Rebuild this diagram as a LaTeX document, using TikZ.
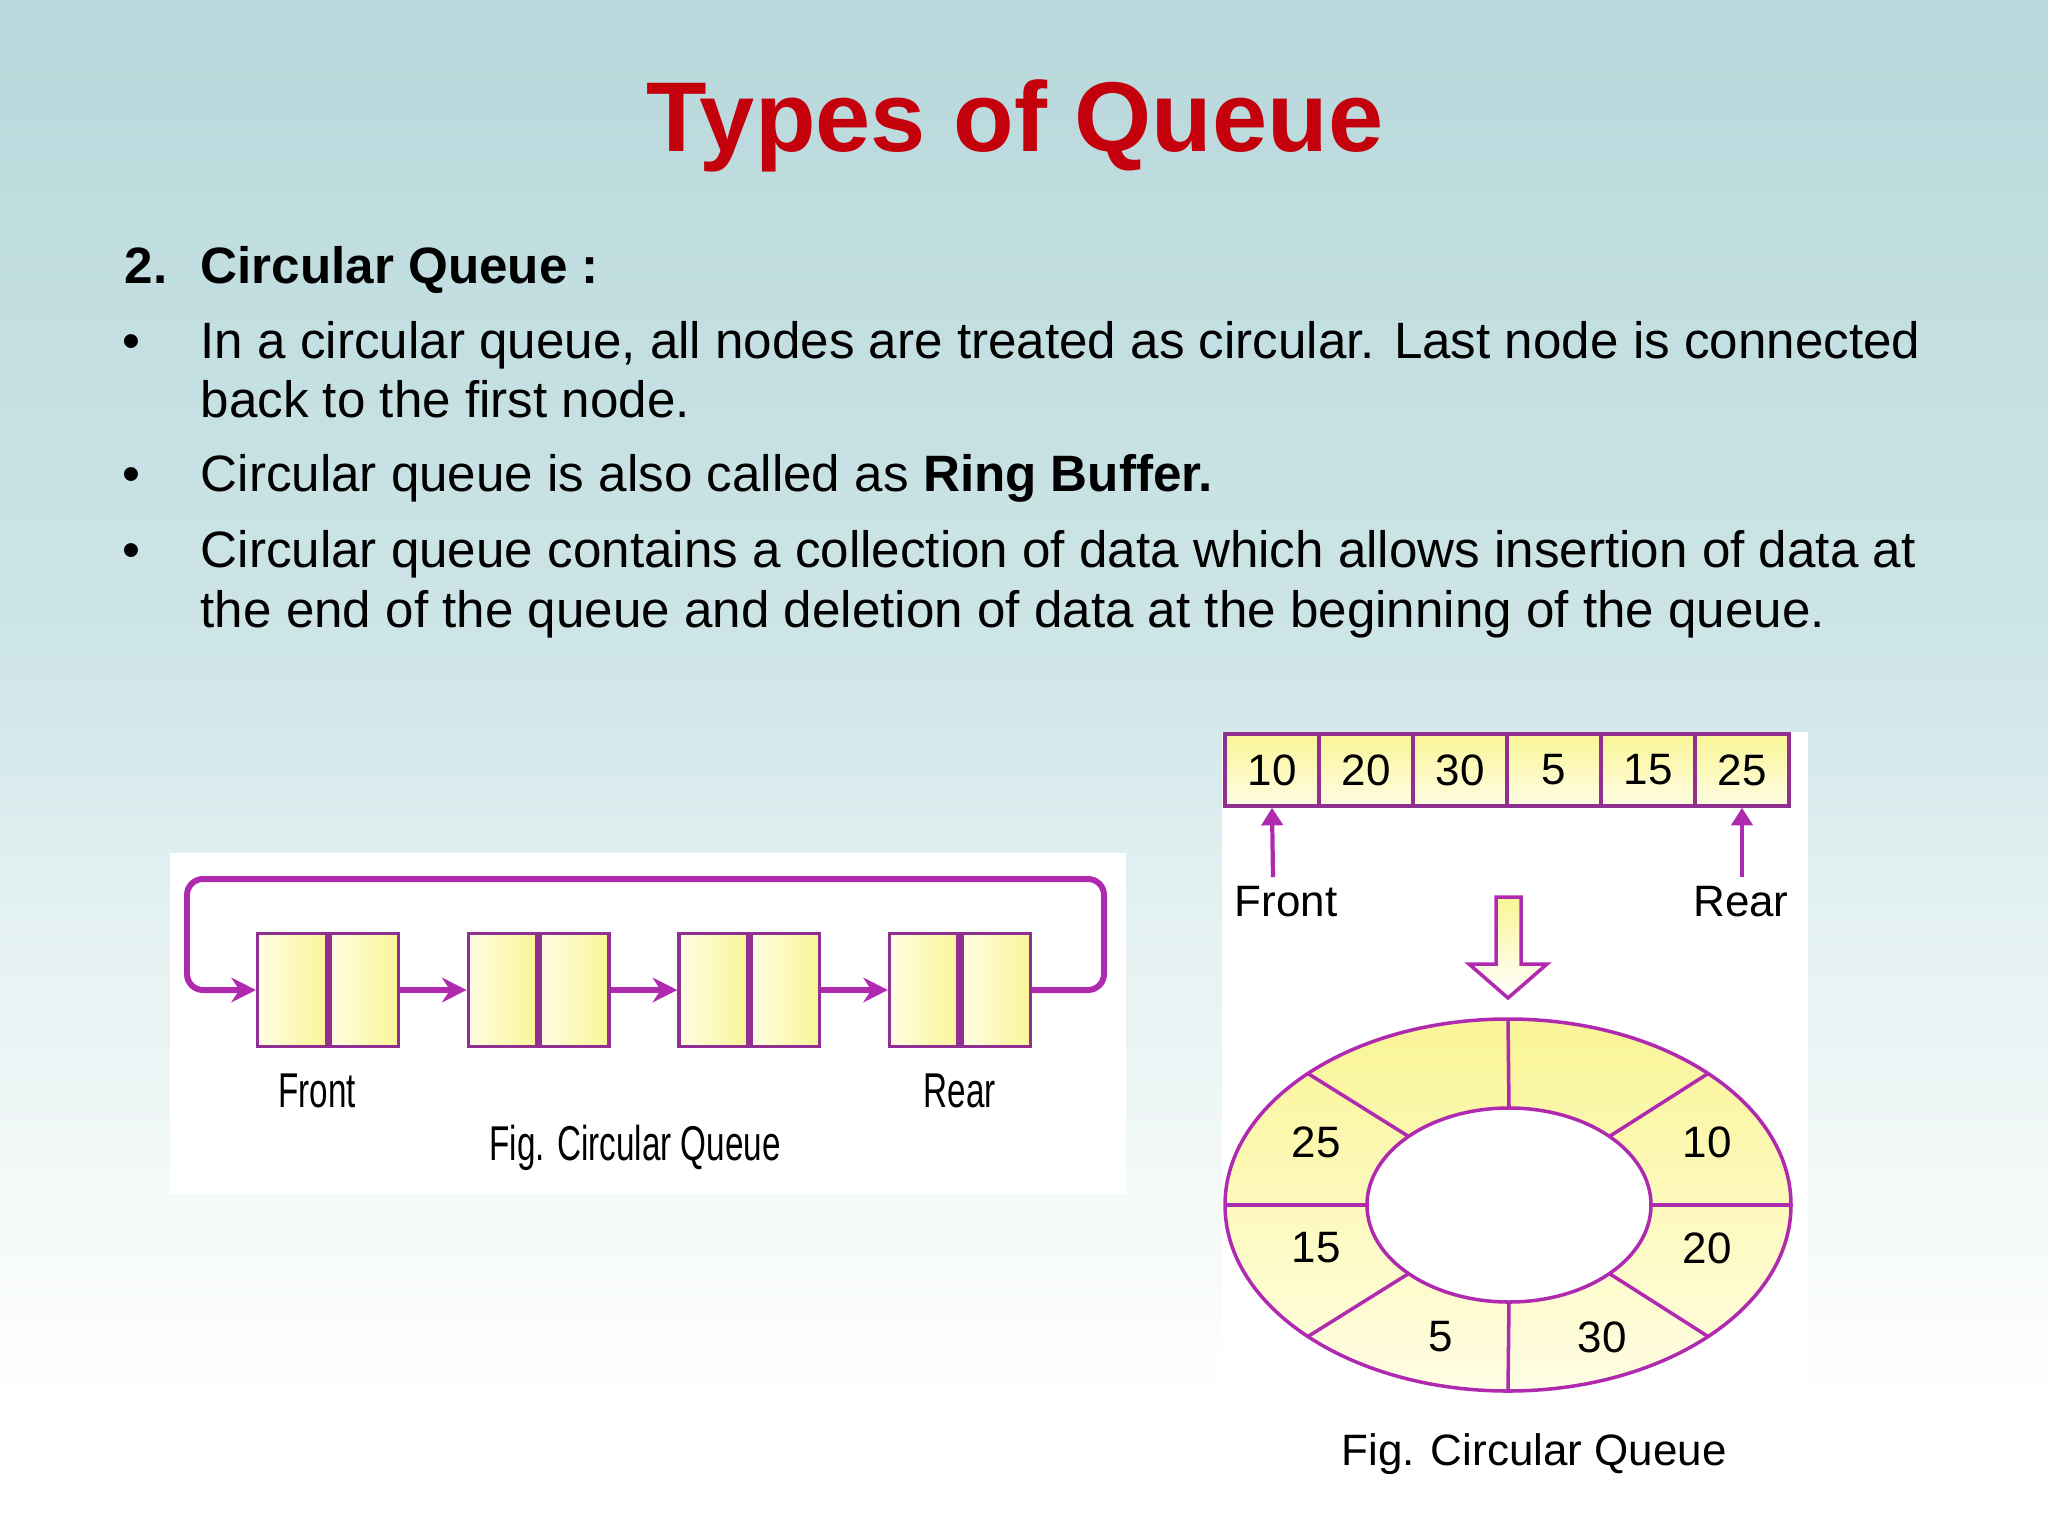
\documentclass[tikz,border=0pt]{standalone}
\usepackage{fontspec}
\setmainfont{Liberation Sans}
\newfontfamily\narrowfont[FakeStretch=0.68]{Liberation Sans}
\usepackage{tikz}
\usetikzlibrary{arrows.meta,positioning,calc}

\definecolor{titlered}{RGB}{196,0,12}
\definecolor{qline}{RGB}{176,42,176}
\definecolor{qedge}{RGB}{146,48,146}
\definecolor{qyellow}{RGB}{250,245,150}
\definecolor{qpale}{RGB}{255,253,228}
\definecolor{bgtop}{RGB}{184,216,219}
\definecolor{bgA}{RGB}{206,229,231}
\definecolor{bgB}{RGB}{228,241,242}
\definecolor{bgC}{RGB}{243,248,248}

\tikzset{
    body/.style={inner sep=0pt, font=\fontsize{14.55}{17}\selectfont},
    half/.style={draw=qedge, line width=1pt, minimum width=0.685cm, minimum height=1.13cm,
        inner sep=0pt, left color=qpale, right color=qyellow},
    arrcell/.style={draw=qedge, line width=1pt, minimum width=0.94cm, minimum height=0.72cm,
        inner sep=0pt, top color=qyellow, bottom color=qpale, font=\fontsize{12.5}{14}\selectfont},
    link/.style={qline, line width=1.5pt, -{Stealth[length=7pt,width=7pt]}},
    loopline/.style={qline, line width=1.7pt, rounded corners=0.16cm, -{Stealth[length=7pt,width=7pt]}},
    ptr/.style={qline, line width=1.2pt, -{Triangle[length=5pt,width=6pt]}},
    ringline/.style={qline, line width=1pt},
    leftfig/.style={inner sep=0pt, font=\narrowfont\fontsize{13.9}{16}\selectfont},
    rightfig/.style={inner sep=0pt, font=\fontsize{12.5}{14}\selectfont},
}

\begin{document}
\begin{tikzpicture}[x=0.01cm, y=-0.01cm]
    \useasboundingbox (0,0) rectangle (2048,1536);
    % slide background
    \shade[top color=bgtop, bottom color=bgA] (0,0) rectangle (2048,650);
    \shade[top color=bgA, bottom color=bgB] (0,649) rectangle (2048,915);
    \shade[top color=bgB, bottom color=bgC] (0,914) rectangle (2048,1175);
    \shade[top color=bgC, bottom color=white] (0,1174) rectangle (2048,1400);
    \fill[white] (0,1399) rectangle (2048,1536);
    \fill[white] (170,853) rectangle (1126,1194);
    \fill[white] (1222,732) rectangle (1808,1500);

    \node[anchor=base, inner sep=0pt, text=titlered, font=\fontsize{28.2}{34}\selectfont\bfseries] (title) at (1015,151) {Types of Queue};

    \node[body, anchor=base west] (num) at (124,283) {\textbf{2.}};
    \node[body, anchor=base west] (hd) at (200,283) {\textbf{Circular Queue :}};
    \node[body, anchor=base] (b1) at (131,358) {\textbullet};
    \node[body, anchor=base] (b2) at (131,491) {\textbullet};
    \node[body, anchor=base] (b3) at (131,567) {\textbullet};
    \node[body, anchor=base west] (l1a) at (200,358) {In a circular queue, all nodes are treated as circular. Last node is connected};
    \node[body, anchor=base west] (l1b) at (200,417) {back to the first node.};
    \node[body, anchor=base west] (l2) at (200,491) {Circular queue is also called as \textbf{Ring Buffer.}};
    \node[body, anchor=base west] (l3a) at (200,567) {Circular queue contains a collection of data which allows insertion of data at};
    \node[body, anchor=base west] (l3b) at (200,627) {the end of the queue and deletion of data at the beginning of the queue.};

    % linked circular queue
    \node[half] (n1d) at (292,990) {};
    \node[half, right=0pt of n1d] (n1p) {};
    \node[half, right=0.665cm of n1p] (n2d) {};
    \node[half, right=0pt of n2d] (n2p) {};
    \node[half, right=0.665cm of n2p] (n3d) {};
    \node[half, right=0pt of n3d] (n3p) {};
    \node[half, right=0.665cm of n3p] (n4d) {};
    \node[half, right=0pt of n4d] (n4p) {};
    \foreach \a/\b in {n1p/n2d,n2p/n3d,n3p/n4d}{
        \draw[link] (\a) -- (\b);
    }
    \coordinate (loopR) at (1104,879);
    \coordinate (loopL) at (187,879);
    \draw[loopline] (n4p.east) -| (loopR) -- (loopL) |- (n1d.west);
    \node[leftfig, anchor=base] (frontL) at (317,1107) {Front};
    \node[leftfig, anchor=base] (rearL) at (960,1107) {Rear};
    \node[leftfig, anchor=base] (figL) at (635,1160) {Fig. Circular Queue};

    % array and ring
    \foreach \v [count=\i] in {10,20,30,5,15,25}{
        \node[arrcell] (c\i) at ({1178+94*\i},770) {\v};
    }
    \node[rightfig, anchor=base] (frontR) at (1286,916) {Front};
    \node[rightfig, anchor=base] (rearR) at (1741,916) {Rear};
    \coordinate (fa) at (1273,877);
    \coordinate (ra) at (1742,877);
    \draw[ptr] (fa) -- (c1.south);
    \draw[ptr] (ra) -- (c6.south);

    \shade[top color=qyellow, bottom color=white, draw=qline, line width=1pt]
        (1496,897) -- (1521,897) -- (1521,964) -- (1547,964) -- (1508,998) -- (1469,964) -- (1496,964) -- cycle;

    \shade[top color=qyellow, bottom color=qpale] (1508,1205) ellipse [x radius=283, y radius=186];
    \draw[ringline] (1508,1205) ellipse [x radius=283, y radius=186];
    \fill[white] (1509,1205) ellipse [x radius=142, y radius=97];
    \draw[ringline] (1509,1205) ellipse [x radius=142, y radius=97];
    \foreach \a in {0,45,...,315}{
        \draw[ringline] ({1509+142*cos(\a)},{1205-97*sin(\a)}) -- ({1508+283*cos(\a)},{1205-186*sin(\a)});
    }
    \node[rightfig] (r10) at (1707,1142) {10};
    \node[rightfig] (r20) at (1707,1248) {20};
    \node[rightfig] (r30) at (1602,1337) {30};
    \node[rightfig] (r5) at (1441,1337) {5};
    \node[rightfig] (r15) at (1316,1248) {15};
    \node[rightfig] (r25) at (1316,1142) {25};
    \node[rightfig, anchor=base] (figR) at (1534,1465) {Fig. Circular Queue};
\end{tikzpicture}
\end{document}
